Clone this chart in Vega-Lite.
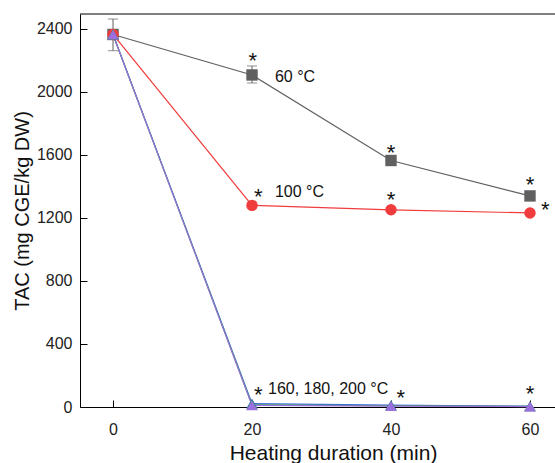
{
  "$schema": "https://vega.github.io/schema/vega-lite/v6.json",
  "width": 475,
  "height": 393,
  "autosize": {"type": "none"},
  "padding": {"left": 80, "top": 14, "right": 0, "bottom": 56},
  "config": {
    "view": {"stroke": null},
    "font": "Liberation Sans",
    "axis": {
      "domainColor": "#000000",
      "domainWidth": 1,
      "tickColor": "#000000",
      "tickWidth": 1,
      "labelColor": "#222222",
      "labelFont": "Liberation Sans",
      "labelFontSize": 16,
      "titleFont": "Liberation Sans",
      "titleFontWeight": "normal",
      "titleColor": "#111111",
      "grid": false
    }
  },
  "datasets": {
    "series": [
      {"t": 0, "v": 2365, "s": "60"},
      {"t": 20, "v": 2108, "s": "60"},
      {"t": 40, "v": 1565, "s": "60"},
      {"t": 60, "v": 1340, "s": "60"},
      {"t": 0, "v": 2365, "s": "100"},
      {"t": 20, "v": 1280, "s": "100"},
      {"t": 40, "v": 1252, "s": "100"},
      {"t": 60, "v": 1232, "s": "100"},
      {"t": 0, "v": 2365, "s": "160"},
      {"t": 20, "v": 22, "s": "160"},
      {"t": 40, "v": 12, "s": "160"},
      {"t": 60, "v": 5, "s": "160"},
      {"t": 0, "v": 2365, "s": "180"},
      {"t": 20, "v": 14, "s": "180"},
      {"t": 40, "v": 8, "s": "180"},
      {"t": 60, "v": 4, "s": "180"},
      {"t": 0, "v": 2365, "s": "200"},
      {"t": 20, "v": 10, "s": "200"},
      {"t": 40, "v": 6, "s": "200"},
      {"t": 60, "v": 3, "s": "200"}
    ],
    "err": [
      {"t": 0, "lo": 2262, "hi": 2463},
      {"t": 20, "lo": 2057, "hi": 2165}
    ],
    "stars": [
      {"t": 20.1, "v": 2229},
      {"t": 40, "v": 1644},
      {"t": 60, "v": 1441},
      {"t": 20.9, "v": 1365},
      {"t": 40, "v": 1346},
      {"t": 62.2, "v": 1283},
      {"t": 20.9, "v": 108},
      {"t": 41.4, "v": 89},
      {"t": 60, "v": 114}
    ],
    "labels": [
      {"t": 23.3, "v": 2095, "txt": "60 °C"},
      {"t": 23.3, "v": 1362, "txt": "100 °C"},
      {"t": 22.3, "v": 112, "txt": "160, 180, 200 °C"}
    ]
  },
  "layer": [
    {
      "data": {"values": [{"v": 2495}]},
      "mark": {"type": "rule", "color": "#000000", "strokeWidth": 1},
      "encoding": {"y": {"field": "v", "type": "quantitative"}}
    },
    {
      "data": {"name": "series"},
      "mark": {"type": "line", "strokeWidth": 1.2},
      "encoding": {
        "x": {
          "field": "t", "type": "quantitative",
          "scale": {"domain": [-4.75, 63.6], "nice": false, "zero": false},
          "axis": {"values": [0, 20, 40, 60], "tickSize": -7, "labelPadding": 21, "title": "Heating duration (min)", "titleFontSize": 21, "titleX": 253, "titleY": 52, "titleBaseline": "alphabetic", "titleAnchor": "middle", "titleAlign": "center"}
        },
        "y": {
          "field": "v", "type": "quantitative",
          "scale": {"domain": [0, 2495], "nice": false},
          "axis": {
            "values": [0, 200, 400, 600, 800, 1000, 1200, 1400, 1600, 1800, 2000, 2200, 2400],
            "format": "d",
            "labelExpr": "datum.value % 400 === 0 ? datum.label : ''",
            "tickSize": {"condition": {"test": "datum.value % 400 === 0", "value": -7}, "value": -4},
            "labelPadding": 15,
            "title": "TAC (mg CGE/kg DW)",
            "titleFontSize": 20,
            "titlePadding": 4
          }
        },
        "color": {
          "field": "s", "type": "nominal", "legend": null,
          "scale": {"domain": ["200", "180", "160", "100", "60"], "range": ["#9b6fe0", "#2ca02c", "#3a6fe0", "#f03c3c", "#606060"]}
        }
      }
    },
    {
      "data": {"name": "err"},
      "mark": {"type": "rule", "color": "#606060", "strokeWidth": 1},
      "encoding": {
        "x": {"field": "t", "type": "quantitative"},
        "y": {"field": "lo", "type": "quantitative"},
        "y2": {"field": "hi"}
      }
    },
    {
      "data": {"name": "err"},
      "mark": {"type": "tick", "orient": "horizontal", "color": "#606060", "size": 10, "thickness": 1},
      "encoding": {
        "x": {"field": "t", "type": "quantitative"},
        "y": {"field": "lo", "type": "quantitative"}
      }
    },
    {
      "data": {"name": "err"},
      "mark": {"type": "tick", "orient": "horizontal", "color": "#606060", "size": 10, "thickness": 1},
      "encoding": {
        "x": {"field": "t", "type": "quantitative"},
        "y": {"field": "hi", "type": "quantitative"}
      }
    },
    {
      "data": {"name": "series"},
      "mark": {"type": "point", "filled": true, "opacity": 1, "size": 130},
      "encoding": {
        "x": {"field": "t", "type": "quantitative"},
        "y": {"field": "v", "type": "quantitative"},
        "color": {"field": "s", "type": "nominal", "legend": null},
        "shape": {
          "field": "s", "type": "nominal", "legend": null,
          "scale": {"domain": ["200", "180", "160", "100", "60"], "range": ["triangle-up", "triangle-up", "triangle-up", "circle", "square"]}
        }
      }
    },
    {
      "data": {"name": "stars"},
      "mark": {"type": "text", "text": "*", "fontSize": 22, "color": "#111111", "baseline": "middle", "dy": 5, "font": "Liberation Sans"},
      "encoding": {
        "x": {"field": "t", "type": "quantitative"},
        "y": {"field": "v", "type": "quantitative"}
      }
    },
    {
      "data": {"name": "labels"},
      "mark": {"type": "text", "fontSize": 16, "color": "#111111", "align": "left", "baseline": "middle", "font": "Liberation Sans"},
      "encoding": {
        "x": {"field": "t", "type": "quantitative"},
        "y": {"field": "v", "type": "quantitative"},
        "text": {"field": "txt"}
      }
    }
  ]
}
